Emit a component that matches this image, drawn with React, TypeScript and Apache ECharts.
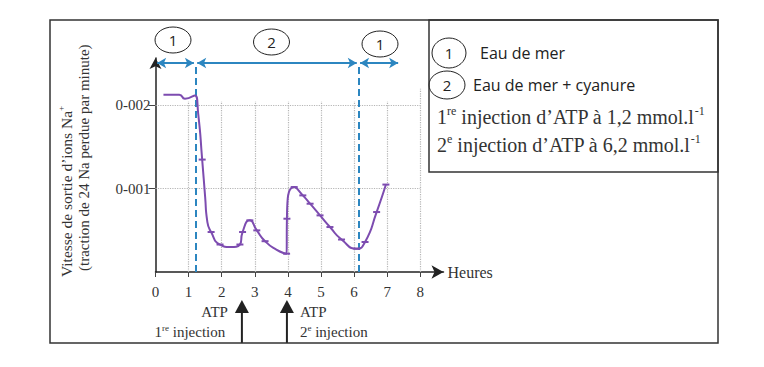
import React, { useEffect, useRef } from "react";
import * as echarts from "echarts";

// Curve: Na+ outflow rate vs time (hours)
const hours = [0.24, 0.72, 0.89, 1.19, 1.29, 1.41, 1.5, 1.56, 1.68, 1.95, 2.25, 2.55, 2.63, 2.85, 3.06, 3.31, 3.65, 3.96, 3.97, 4.19, 4.45, 4.67, 4.97, 5.27, 5.62, 6.08, 6.33, 6.68, 6.96];
const rates = [0.00213, 0.00213, 0.00208, 0.00212, 0.0019, 0.00135, 0.0009, 0.00062, 0.00048, 0.00033, 0.0003, 0.00033, 0.00048, 0.00062, 0.0005, 0.00037, 0.00027, 0.00022, 0.00064, 0.00102, 0.00092, 0.00082, 0.00068, 0.00054, 0.00039, 0.00028, 0.00036, 0.00072, 0.00105];
const marked = [0, 0, 0, 0, 0, 1, 0, 0, 1, 1, 1, 1, 1, 1, 1, 1, 0, 1, 1, 1, 1, 1, 1, 1, 1, 1, 1, 1, 1];

const xTicks = [0, 1, 2, 3, 4, 5, 6, 7, 8];
const yTicks = [0.001, 0.002];

// Periods (1 = sea water, 2 = sea water + cyanide)
const periodBounds = [0.05, 1.21, 6.13, 7.33];
const periodLabels = ["1", "2", "1"];
const switchTimes = [1.21, 6.13];

// ATP injections
const injectionTimes = [2.61, 3.97];

const SERIF = "Liberation Serif";
const SANS = "Open Sans";
const PURPLE = "#7d4cb0";
const BLUE = "#2c86c0";
const TEXT = "#333";
const Y_MAX = 0.00257;
const ARROW_Y = 0.00251;

type Part = { t: string; sup?: boolean };

let measureCtx: CanvasRenderingContext2D | null = null;
function measure(text: string, size: number): number {
  if (!measureCtx) measureCtx = document.createElement("canvas").getContext("2d");
  if (!measureCtx) return text.length * size * 0.5;
  measureCtx.font = `${size}px "${SERIF}"`;
  return measureCtx.measureText(text).width;
}

// serif text line with superscripts, built from separate text pieces
function serifLine(x: number, y: number, parts: Part[], size: number, align: "left" | "center" | "right", rotation = 0) {
  const supSize = Math.round(size * 0.58);
  const widths = parts.map((p) => measure(p.t, p.sup ? supSize : size));
  const total = widths.reduce((a, b) => a + b, 0);
  let cx = align === "left" ? 0 : align === "center" ? -total / 2 : -total;
  const children: any[] = [];
  parts.forEach((p, i) => {
    const lead = p.t.startsWith(" ") ? measure(" ", p.sup ? supSize : size) : 0;
    children.push({
      type: "text",
      x: cx + lead,
      y: p.sup ? -size * 0.3 : 0,
      style: {
        text: p.t.trimStart(),
        fontFamily: SERIF,
        fontSize: p.sup ? supSize : size,
        fill: TEXT,
        align: "left",
        verticalAlign: "middle",
      },
    });
    cx += widths[i];
  });
  return { type: "group", x, y, rotation, children };
}

export default function App() {
  const ref = useRef<HTMLDivElement>(null);
  useEffect(() => {
    if (!ref.current) return;
    const chart = echarts.init(ref.current, null, { renderer: "svg" });
    const data = hours.map((h, i) => ({
      value: [h, rates[i]],
      symbol: marked[i] ? "rect" : "none",
    }));
    const gridLines: any[] = [];
    yTicks.forEach((v) => gridLines.push([{ coord: [0, v] }, { coord: [8, v] }]));
    xTicks.slice(1).forEach((x) =>
      gridLines.push([{ coord: [x, 0] }, { coord: [x, x === 8 ? 0.0022 : 0.00205] }])
    );
    const arrows = periodLabels.map((_, i) => [
      { coord: [periodBounds[i] + (i === 0 ? 0 : 0.05), ARROW_Y] },
      { coord: [periodBounds[i + 1] - (i === 2 ? 0 : 0.05), ARROW_Y] },
    ]);
    const dashed = switchTimes.map((t) => [{ coord: [t, 0] }, { coord: [t, ARROW_Y] }]);

    chart.setOption({
      animation: false,
      grid: { left: 155.5, right: 320.5, top: 58, bottom: 95, containLabel: false },
      xAxis: {
        type: "value",
        min: 0,
        max: 8.7,
        axisLine: {
          lineStyle: { color: "#222", width: 1.5 },
          symbol: ["none", "arrow"],
          symbolSize: [10, 12],
        },
        axisTick: { show: true, length: 5, customValues: xTicks, lineStyle: { color: "#444" } },
        axisLabel: {
          customValues: xTicks,
          margin: 12,
          fontFamily: SERIF,
          fontSize: 15,
          color: TEXT,
          formatter: (v: number) => String(v),
        },
        splitLine: { show: false },
        name: "Heures",
        nameLocation: "end",
        nameGap: 4,
        nameTextStyle: { fontFamily: SERIF, fontSize: 16, color: TEXT, align: "left", verticalAlign: "middle" },
      },
      yAxis: {
        type: "value",
        min: 0,
        max: Y_MAX,
        axisLine: {
          show: true,
          lineStyle: { color: "#222", width: 1.5 },
          symbol: ["none", "arrow"],
          symbolSize: [9, 11],
        },
        axisTick: { show: true, length: 7, customValues: yTicks, lineStyle: { color: "#444" } },
        axisLabel: {
          customValues: yTicks,
          margin: 5,
          fontFamily: SERIF,
          fontSize: 15,
          color: TEXT,
          formatter: (v: number) => v.toFixed(3).replace(".", "-"),
        },
        splitLine: { show: false },
      },
      series: [
        {
          type: "line",
          data: [[0, 0]],
          symbol: "none",
          lineStyle: { width: 0 },
          silent: true,
          markLine: {
            silent: true,
            symbol: "none",
            label: { show: false },
            lineStyle: { type: "dotted", color: "#b5b5b5", width: 1.2 },
            data: gridLines,
          },
        },
        {
          type: "line",
          data: [[0, 0]],
          symbol: "none",
          lineStyle: { width: 0 },
          silent: true,
          markLine: {
            silent: true,
            symbol: "none",
            label: { show: false },
            lineStyle: { type: [7, 4], color: BLUE, width: 2 },
            data: dashed,
          },
        },
        {
          type: "line",
          data: [[0, 0]],
          symbol: "none",
          lineStyle: { width: 0 },
          silent: true,
          markLine: {
            silent: true,
            symbol: ["arrow", "arrow"],
            symbolSize: [8, 9],
            label: { show: false },
            lineStyle: { type: "solid", color: BLUE, width: 2 },
            data: arrows,
          },
        },
        {
          type: "line",
          data,
          smooth: 0.6,
          symbolSize: [7, 2],
          itemStyle: { color: PURPLE },
          lineStyle: { color: PURPLE, width: 2 },
          z: 5,
        },
      ],
    });

    const px = (h: number, v: number) => chart.convertToPixel({ gridIndex: 0 }, [h, v]) as number[];
    const baseY = 343;
    const injGraphics: any[] = [];
    injectionTimes.forEach((t) => {
      const x = px(t, 0)[0];
      injGraphics.push({
        type: "line",
        shape: { x1: x, y1: baseY, x2: x, y2: 310 },
        style: { stroke: "#222", lineWidth: 2 },
      });
      injGraphics.push({
        type: "polygon",
        shape: { points: [[x - 7, 313], [x + 7, 313], [x, 300]] },
        style: { fill: "#222" },
      });
    });
    const x1 = px(injectionTimes[0], 0)[0];
    const x2 = px(injectionTimes[1], 0)[0];
    const ellipse = (cx: number, cy: number, rx: number, ry: number, label: string) => [
      {
        type: "ellipse",
        shape: { cx, cy, rx, ry },
        style: { fill: "none", stroke: "#222", lineWidth: 1 },
      },
      {
        type: "text",
        x: cx,
        y: cy,
        style: { text: label, fontFamily: SANS, fontSize: 15, fill: "#222", align: "center", verticalAlign: "middle" },
      },
    ];
    const periodCircles: any[] = [];
    const circleX = [173, 271.5, 380];
    const circleY = [40, 42, 44];
    periodLabels.forEach((l, i) => periodCircles.push(...ellipse(circleX[i], circleY[i], 18, 13, l)));

    chart.setOption({
      graphic: [
        {
          type: "rect",
          shape: { x: 50, y: 20, width: 668, height: 323 },
          style: { fill: "none", stroke: "#333", lineWidth: 1.5 },
          z: 10,
        },
        {
          type: "rect",
          shape: { x: 429, y: 20, width: 289, height: 152 },
          style: { fill: "none", stroke: "#333", lineWidth: 1.5 },
          z: 10,
        },
        ...periodCircles,
        ...ellipse(449, 53, 17, 15, "1"),
        ...ellipse(447, 85, 18, 14, "2"),
        {
          type: "text",
          x: 480,
          y: 53,
          style: { text: "Eau de mer", fontFamily: SANS, fontSize: 16, fill: "#222", verticalAlign: "middle" },
        },
        {
          type: "text",
          x: 473,
          y: 85,
          style: { text: "Eau de mer + cyanure", fontFamily: SANS, fontSize: 16, fill: "#222", verticalAlign: "middle" },
        },
        serifLine(437, 117, [{ t: "1" }, { t: "re", sup: true }, { t: " injection d’ATP à 1,2 mmol.l" }, { t: "-1", sup: true }], 20, "left"),
        serifLine(437, 145, [{ t: "2" }, { t: "e", sup: true }, { t: " injection d’ATP à 6,2 mmol.l" }, { t: "-1", sup: true }], 20, "left"),
        serifLine(66, 277, [{ t: "Vitesse de sortie d’ions Na" }, { t: "+", sup: true }], 15.5, "left", Math.PI / 2),
        serifLine(84, 271, [{ t: "(traction de 24 Na perdue par minute)" }], 15, "left", Math.PI / 2),
        serifLine(x1 - 14, 312, [{ t: "ATP" }], 15, "right"),
        serifLine(x1 - 52, 332, [{ t: "1" }, { t: "re", sup: true }, { t: " injection" }], 15, "center"),
        serifLine(x2 + 13, 312, [{ t: "ATP" }], 15, "left"),
        serifLine(x2 + 13, 332, [{ t: "2" }, { t: "e", sup: true }, { t: " injection" }], 15, "left"),
        ...injGraphics,
      ],
    });
    return () => chart.dispose();
  }, []);
  return (
    <div
      ref={ref}
      style={{ position: "fixed", left: 0, top: 0, width: 764, height: 367, background: "#fff" }}
    />
  );
}
